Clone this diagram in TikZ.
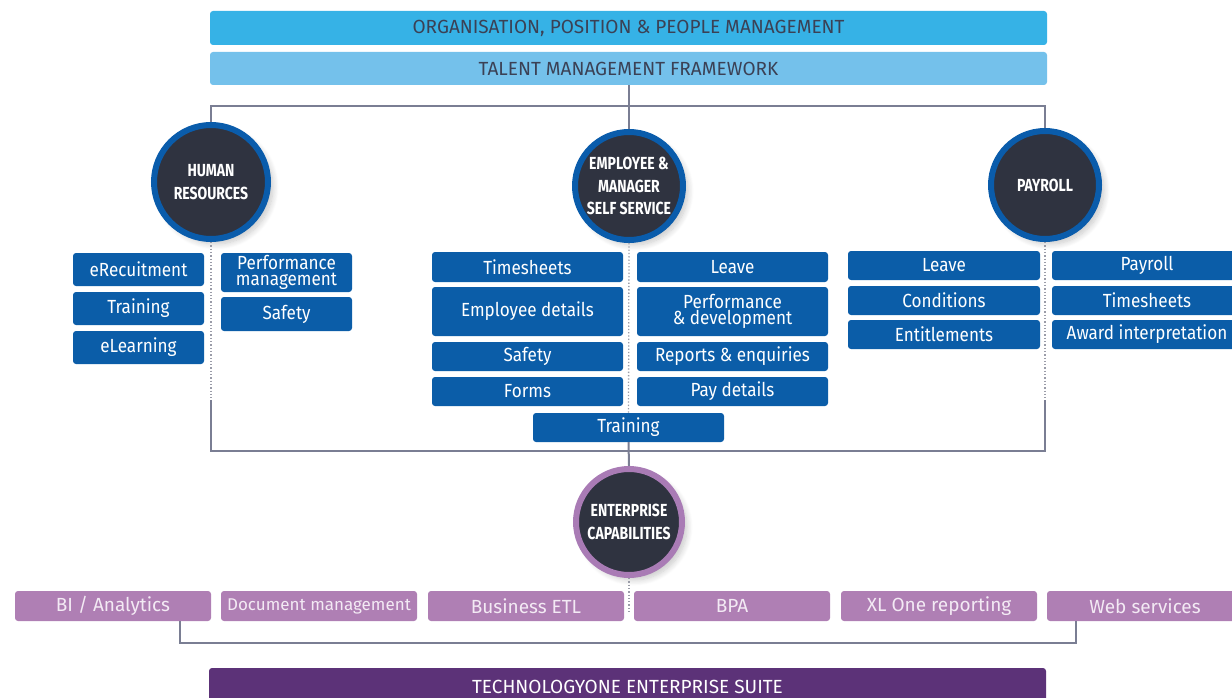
\documentclass[tikz,border=0pt]{standalone}
\usepackage{fontspec}
\setmainfont{Fira Sans}
\newfontfamily\cond[FakeStretch=0.90]{Fira Sans}
\newfontfamily\condb[FakeStretch=0.80]{Fira Sans}
\usetikzlibrary{shadows.blur}
\definecolor{topblue}{HTML}{36B2E6}
\definecolor{lightblue}{HTML}{74C1EB}
\definecolor{toptext}{HTML}{3B4155}
\definecolor{boxblue}{HTML}{0B5DA8}
\definecolor{ringblue}{HTML}{0A5CAB}
\definecolor{darkfill}{HTML}{2F3340}
\definecolor{purplebox}{HTML}{AF7FB4}
\definecolor{purplering}{HTML}{A97BB5}
\definecolor{purpletext}{HTML}{F3EAF4}
\definecolor{suite}{HTML}{5C3278}
\definecolor{conngray}{HTML}{7A7E93}
\definecolor{dotgray}{HTML}{9A9CA8}
\newcommand\bx[7]{\node[#1, minimum width={(#4)-(#2)}, minimum height={(#5)-(#3)}] (#7) at ({((#2)+(#4))/2},{((#3)+(#5))/2}) {#6};}
\tikzset{
  basebox/.style={rounded corners=3pt, inner sep=0pt, align=center},
  topbar/.style={basebox, fill=topblue, text=toptext, font=\fontsize{19}{21}\selectfont},
  tmfbar/.style={basebox, fill=lightblue, text=toptext, font=\fontsize{19}{21}\selectfont},
  bluebox/.style={basebox, fill=boxblue, text=white, font=\cond\fontsize{19}{16.5}\selectfont},
  purpbox/.style={basebox, fill=purplebox, text=purpletext, font=\fontsize{19}{21}\selectfont},
  suitebar/.style={basebox, fill=suite, text=white, font=\fontsize{19}{21}\selectfont},
  hub/.style={circle, inner sep=0pt, fill=darkfill, line width=6pt, text=white, align=center,
    font=\condb\bfseries\fontsize{17.5}{22.5}\selectfont,
    blur shadow={shadow xshift=5pt, shadow yshift=-5pt, shadow blur steps=10, shadow blur radius=6pt, shadow opacity=22}},
  bluehub/.style={hub, draw=ringblue},
  purphub/.style={hub, draw=purplering},
  conn/.style={draw=conngray, line width=2pt},
  dotline/.style={draw=dotgray, line width=1.3pt, dotted},
}
\begin{document}
\begin{tikzpicture}[x=1pt,y=-1pt]
\useasboundingbox (0,0) rectangle (1232,698);
\clip (0,0) rectangle (1232,698);
% top bars
\bx{topbar}{210}{11}{1047}{45}{ORGANISATION, POSITION \& PEOPLE MANAGEMENT}{org}
\bx{tmfbar}{210}{52}{1047}{85}{TALENT MANAGEMENT FRAMEWORK}{tmf}
% hubs
\node[bluehub, minimum size=114] (hr) at (211,182) {HUMAN\\RESOURCES};
\node[bluehub, minimum size=108] (ess) at (629,186) {EMPLOYEE \&\\MANAGER\\SELF SERVICE};
\node[bluehub, minimum size=108] (pay) at (1045,185) {PAYROLL};
\node[purphub, minimum size=106] (ent) at (629,522) {ENTERPRISE\\CAPABILITIES};
% top connectors
\draw[conn] (hr.north) -- ++(0,-16) coordinate (tl) -| (pay.north);
\draw[conn] (tmf.south) -- (tmf.south |- tl);
\draw[conn] (tl -| ess.north) -- (ess.north);
% HR boxes
\bx{bluebox}{73}{253}{204}{286}{eRecuitment}{erec}
\bx{bluebox}{73}{292}{204}{325}{Training}{hrtr}
\bx{bluebox}{73}{331}{204}{364}{eLearning}{elrn}
\bx{bluebox}{221}{253}{352}{292}{Performance\\management}{perf}
\bx{bluebox}{221}{297}{352}{331}{Safety}{hrsaf}
% ESS boxes
\bx{bluebox}{432}{252}{623}{282}{Timesheets}{etime}
\bx{bluebox}{432}{287}{623}{336}{Employee details}{edet}
\bx{bluebox}{432}{342}{623}{371}{Safety}{esaf}
\bx{bluebox}{432}{377}{623}{406}{Forms}{eform}
\bx{bluebox}{637}{252}{828}{282}{Leave}{eleave}
\bx{bluebox}{637}{287}{828}{336}{\fontsize{19}{19.5}\selectfont Performance\\\& development}{eperf}
\bx{bluebox}{637}{342}{828}{371}{Reports \& enquiries}{erep}
\bx{bluebox}{637}{377}{828}{406}{Pay details}{epay}
\bx{bluebox}{533}{413}{724}{442}{Training}{etr}
% Payroll boxes
\bx{bluebox}{848}{251}{1040}{280}{Leave}{pleave}
\bx{bluebox}{848}{286}{1040}{315}{Conditions}{pcond}
\bx{bluebox}{848}{320}{1040}{349}{Entitlements}{pent}
\bx{bluebox}{1052}{251}{1242}{280}{Payroll}{ppay}
\bx{bluebox}{1052}{286}{1242}{315}{Timesheets}{ptime}
\bx{bluebox}{1052}{320}{1242}{349}{Award interpretation}{paward}
% dotted spines
\draw[dotline] (hr.south) -- (hr.south |- 0,400) coordinate (hrb);
\draw[dotline] (pay.south) -- (pay.south |- 0,400) coordinate (payb);
\draw[dotline] (ess.south) -- (etr.north);
% lower frame
\draw[conn] (hrb) -- (hrb |- 0,451) -- (payb |- 0,451) -- (payb);
\draw[conn] (etr.south) -- (ent.north);
% enterprise boxes
\bx{purpbox}{15}{591}{211}{621}{BI / Analytics}{bi}
\bx{purpbox}{221}{591}{417}{621}{\fontsize{17}{20}\selectfont Document management}{doc}
\bx{purpbox}{428}{591}{624}{621}{Business ETL}{etl}
\bx{purpbox}{634}{591}{830}{621}{BPA}{bpa}
\bx{purpbox}{841}{591}{1037}{621}{XL One reporting}{xl}
\bx{purpbox}{1047}{591}{1243}{621}{Web services}{web}
\draw[dotline] (ent.south) -- (ent.south |- 0,612);
\draw[conn] ([xshift=-31pt]bi.south east) -- ++(0,22) -| ([xshift=29pt]web.south west);
% suite bar
\bx{suitebar}{209}{668}{1046}{706}{TECHNOLOGYONE ENTERPRISE SUITE}{suitebar}
\end{tikzpicture}
\end{document}
